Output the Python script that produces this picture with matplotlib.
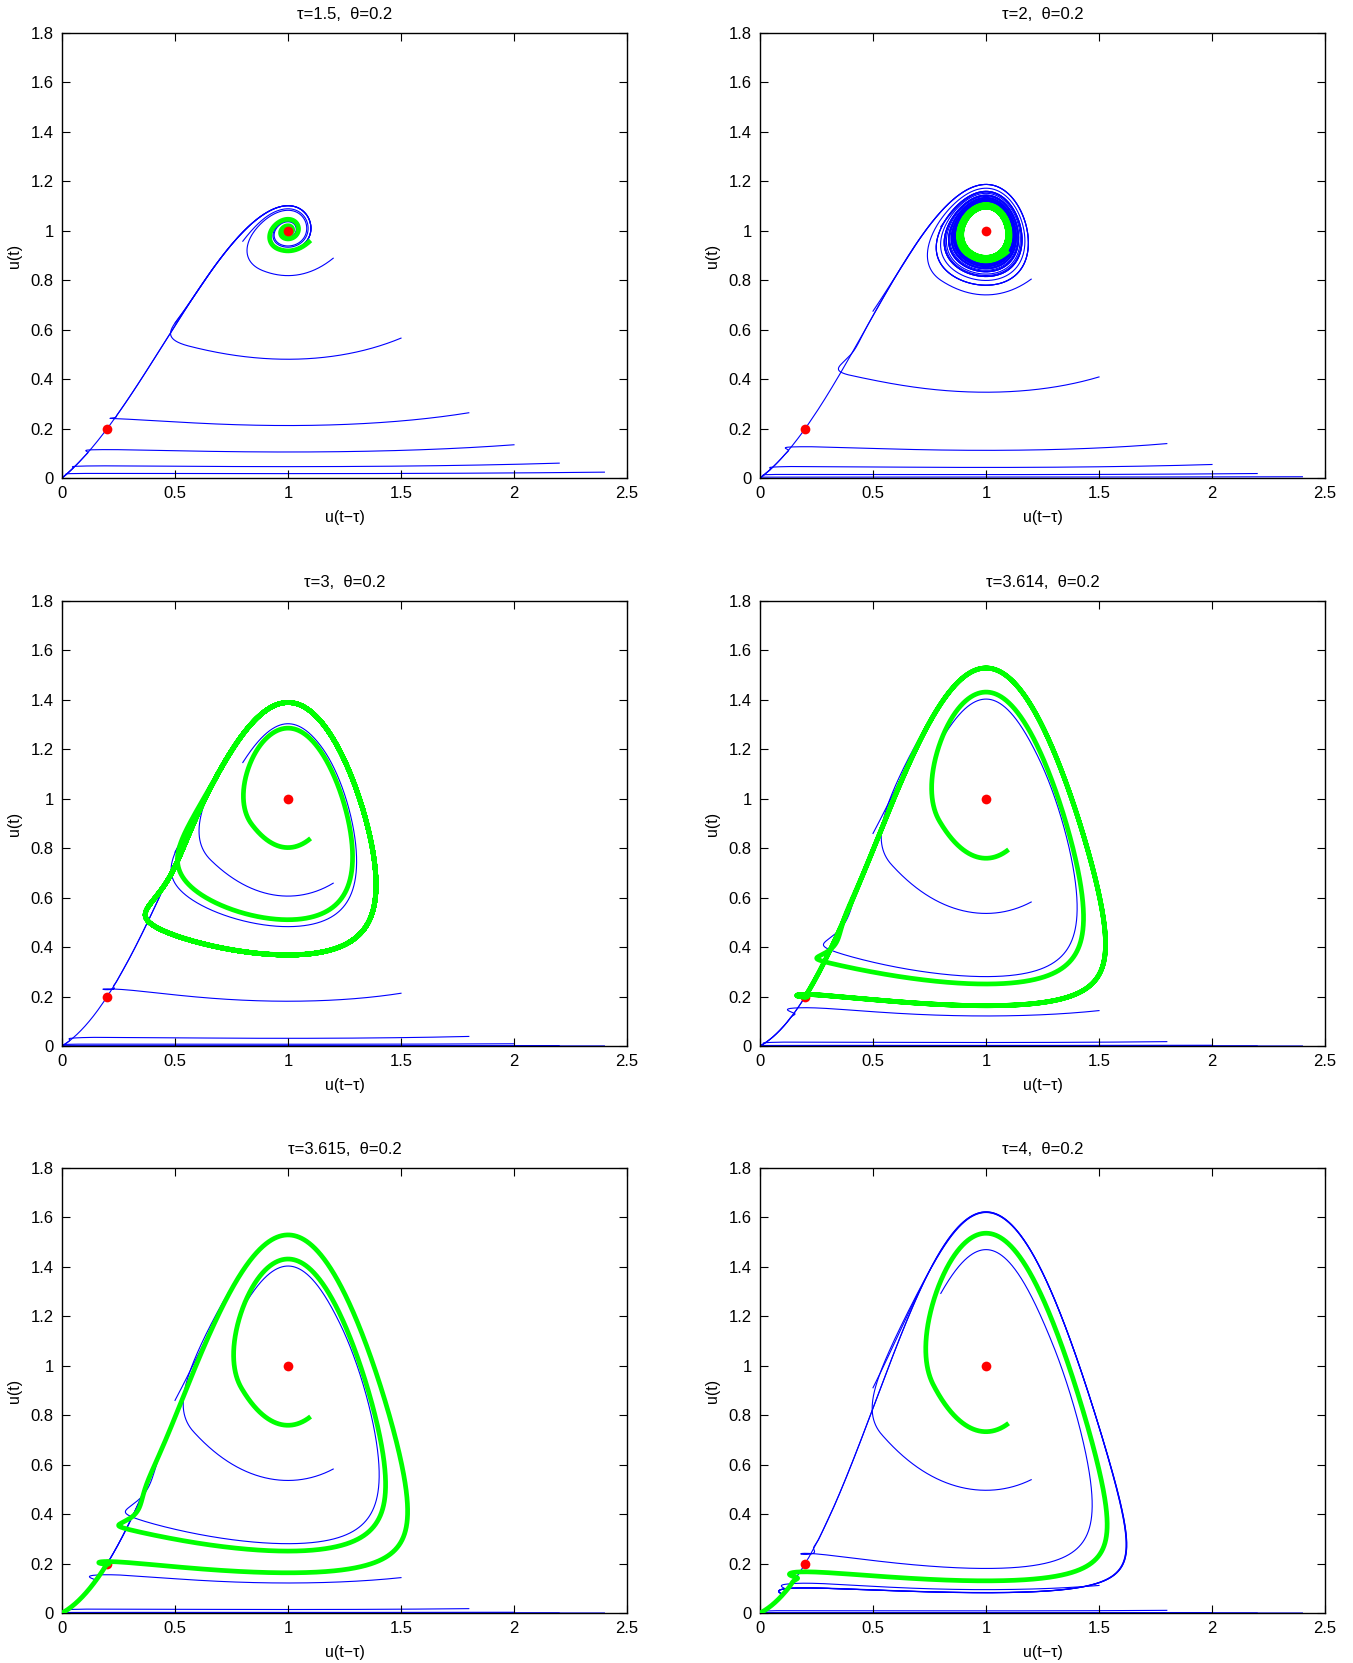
import numpy as np
import matplotlib
matplotlib.use("Agg")
import matplotlib.pyplot as plt

plt.rcParams["font.family"] = ["Liberation Sans", "DejaVu Sans"]

# delay values of the six panels and the Allee threshold
TAUS = [1.5, 2.0, 3.0, 3.614, 3.615, 4.0]
THETA = 0.2
# history starts u(-tau) of the thin blue and the thick green orbits
BLUE_X0 = [0.19, 0.21, 0.5, 0.8, 1.2, 1.5, 1.8, 2.0, 2.2, 2.4]
GREEN_X0 = [1.1]
# equilibria marked in red
EQ_U = [THETA, 1.0]

X_TICKS = [0, 0.5, 1, 1.5, 2, 2.5]
X_LABELS = ["0", "0.5", "1", "1.5", "2", "2.5"]
Y_TICKS = [0, 0.2, 0.4, 0.6, 0.8, 1.0, 1.2, 1.4, 1.6, 1.8]
Y_LABELS = ["0", "0.2", "0.4", "0.6", "0.8", "1", "1.2", "1.4", "1.6", "1.8"]

N_PER_TAU = 1000   # steps per delay interval
N_DELAYS = 60      # run length in delay intervals


def rhs(u, ud):
    # u'(t) = u(t) (1 - u(t - tau)) (u(t - tau) - theta)
    return u * (1.0 - ud) * (ud - THETA)


def simulate(taus, x0s):
    """Fixed step Euler march of the delay equation, all orbits at once."""
    tau = np.repeat(np.asarray(taus, float), len(x0s))
    x0 = np.tile(np.asarray(x0s, float), len(taus))
    k = (x0 - THETA) * (x0 - 1.0)
    N = N_PER_TAU
    M = N_DELAYS * N
    h = tau / N
    # exponential initial history u(s), s in [-tau, 0], with u(-tau) = x0
    hist = x0 * np.exp(-k * h * np.arange(N + 1)[:, None])
    U = np.empty((M + 1, tau.size))
    U[0] = hist[-1]
    for n in range(M):
        ud = hist[n] if n < N else U[n - N]
        U[n + 1] = U[n] + h * rhs(U[n], ud)
    X = np.concatenate([hist[:N], U[:M + 1 - N]])
    return X, U


all_x0 = BLUE_X0 + GREEN_X0
X, Y = simulate(TAUS, all_x0)
n_orb = len(all_x0)

fig = plt.figure(figsize=(13.53, 16.63), dpi=100)
lefts = [62 / 1353, 760 / 1353]
width = 565 / 1353
height = 445 / 1663
bottoms = [1 - 478 / 1663, 1 - 1046 / 1663, 1 - 1613 / 1663]

for p, tau in enumerate(TAUS):
    ax = fig.add_axes([lefts[p % 2], bottoms[p // 2], width, height])
    for i, x0 in enumerate(all_x0):
        c = p * n_orb + i
        if x0 in GREEN_X0:
            ax.plot(X[::2, c], Y[::2, c], color=(0, 1, 0), lw=3.4, zorder=3,
                    solid_capstyle="butt")
        else:
            ax.plot(X[::2, c], Y[::2, c], color=(0, 0, 1), lw=0.8, zorder=1)
    for ue in EQ_U:
        ax.plot([ue], [ue], "o", color=(1, 0, 0), ms=7, mec="none",
                zorder=4 if ue == 1.0 else 2)

    ax.set_xlim(0, 2.5)
    ax.set_ylim(0, 1.8)
    ax.set_xticks(X_TICKS)
    ax.set_xticklabels(X_LABELS)
    ax.set_yticks(Y_TICKS)
    ax.set_yticklabels(Y_LABELS)
    ax.tick_params(direction="in", length=6, width=0.8, top=True, right=True,
                   labelsize=12, pad=6)
    for s in ax.spines.values():
        s.set_linewidth(1.0)
    ax.set_xlabel("u(t\u2212\u03c4)", fontsize=11.5, labelpad=6)
    ax.set_ylabel("u(t)", fontsize=11.5, labelpad=6)
    ax.set_title(f"\u03c4={tau:g},  \u03b8={THETA:g}", fontsize=12, pad=10)

fig.savefig("out.png", dpi=100)
